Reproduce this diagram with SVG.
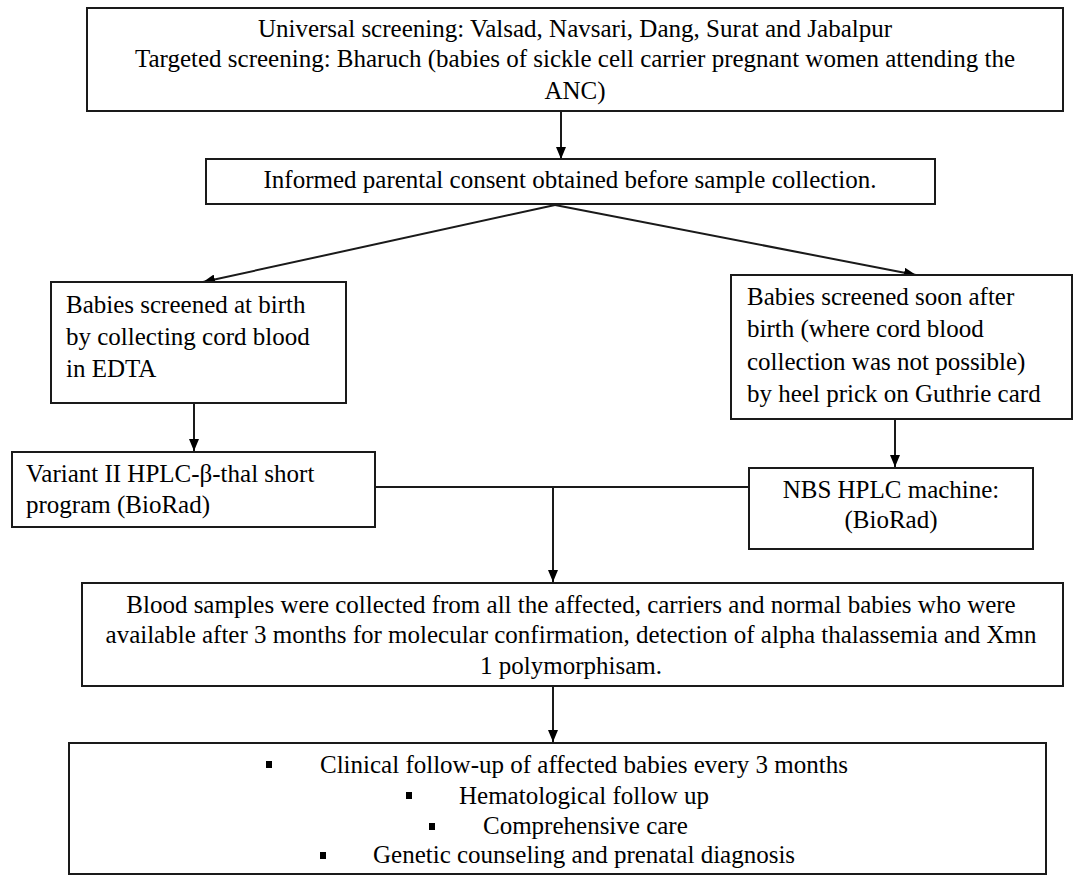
<svg xmlns="http://www.w3.org/2000/svg" width="1084" height="883" viewBox="0 0 1084 883">
<style>
  .box { fill: #fff; stroke: #1a1a1a; stroke-width: 2; }
  .t { font-family: "Liberation Serif", "Times New Roman", serif; font-size: 25px; fill: #000; }
  .c { text-anchor: middle; }
  .ln { stroke: #1a1a1a; stroke-width: 2; fill: none; }
  .bul { fill: #000; }
</style>
<defs>
  <marker id="ah" viewBox="0 0 12 10" refX="12" refY="5" markerWidth="12" markerHeight="10" markerUnits="userSpaceOnUse" orient="auto">
    <path d="M0,0 L12,5 L0,10 Z" fill="#000"/>
  </marker>
</defs>
<rect width="1084" height="883" fill="#fff"/>

<g id="connectors">
  <line class="ln" x1="561" y1="111" x2="561" y2="159" marker-end="url(#ah)"/>
  <line class="ln" x1="555" y1="205" x2="203" y2="282" marker-end="url(#ah)"/>
  <line class="ln" x1="555" y1="205" x2="916" y2="275" marker-end="url(#ah)"/>
  <line class="ln" x1="194" y1="403" x2="194" y2="451" marker-end="url(#ah)"/>
  <line class="ln" x1="895" y1="419" x2="895" y2="467" marker-end="url(#ah)"/>
  <line class="ln" x1="375" y1="487" x2="749" y2="487"/>
  <line class="ln" x1="553" y1="487" x2="553" y2="582" marker-end="url(#ah)"/>
  <line class="ln" x1="553" y1="686" x2="553" y2="742" marker-end="url(#ah)"/>
</g>

<g id="n-screening">
  <rect class="box" x="87" y="8" width="976" height="103"/>
  <text class="t c" x="575" y="37">Universal screening: Valsad, Navsari, Dang, Surat and Jabalpur</text>
  <text class="t c" x="575" y="67">Targeted screening: Bharuch (babies of sickle cell carrier pregnant women attending the</text>
  <text class="t c" x="575" y="99">ANC)</text>
</g>

<g id="n-consent">
  <rect class="box" x="206" y="159" width="729" height="45"/>
  <text class="t c" x="570" y="188">Informed parental consent obtained before sample collection.</text>
</g>

<g id="n-cord">
  <rect class="box" x="51" y="282" width="295" height="121"/>
  <text class="t" x="66" y="313">Babies screened at birth</text>
  <text class="t" x="66" y="345">by collecting cord blood</text>
  <text class="t" x="66" y="377">in EDTA</text>
</g>

<g id="n-heel">
  <rect class="box" x="731" y="275" width="341" height="144"/>
  <text class="t" x="747" y="305">Babies screened soon after</text>
  <text class="t" x="747" y="337">birth (where cord blood</text>
  <text class="t" x="747" y="370">collection was not possible)</text>
  <text class="t" x="747" y="402">by heel prick on Guthrie card</text>
</g>

<g id="n-variant">
  <rect class="box" x="12" y="452" width="363" height="75"/>
  <text class="t" x="26" y="482">Variant II HPLC-β-thal short</text>
  <text class="t" x="26" y="513">program (BioRad)</text>
</g>

<g id="n-nbs">
  <rect class="box" x="749" y="468" width="284" height="81"/>
  <text class="t c" x="891" y="498">NBS HPLC machine:</text>
  <text class="t c" x="891" y="528">(BioRad)</text>
</g>

<g id="n-blood">
  <rect class="box" x="82" y="583" width="981" height="103"/>
  <text class="t c" x="571" y="613">Blood samples were collected from all the affected, carriers and normal babies who were</text>
  <text class="t c" x="571" y="643">available after 3 months for molecular confirmation, detection of alpha thalassemia and Xmn</text>
  <text class="t c" x="571" y="674">1 polymorphisam.</text>
</g>

<g id="n-followup">
  <rect class="box" x="69" y="743" width="977" height="131"/>
  <rect class="bul" x="266" y="761" width="6" height="7"/>
  <text class="t" x="320" y="773">Clinical follow-up of affected babies every 3 months</text>
  <rect class="bul" x="406" y="792" width="6" height="7"/>
  <text class="t" x="459" y="804">Hematological follow up</text>
  <rect class="bul" x="429" y="823" width="6" height="7"/>
  <text class="t" x="483" y="834">Comprehensive care</text>
  <rect class="bul" x="320" y="852" width="6" height="7"/>
  <text class="t" x="373" y="863">Genetic counseling and prenatal diagnosis</text>
</g>
</svg>
